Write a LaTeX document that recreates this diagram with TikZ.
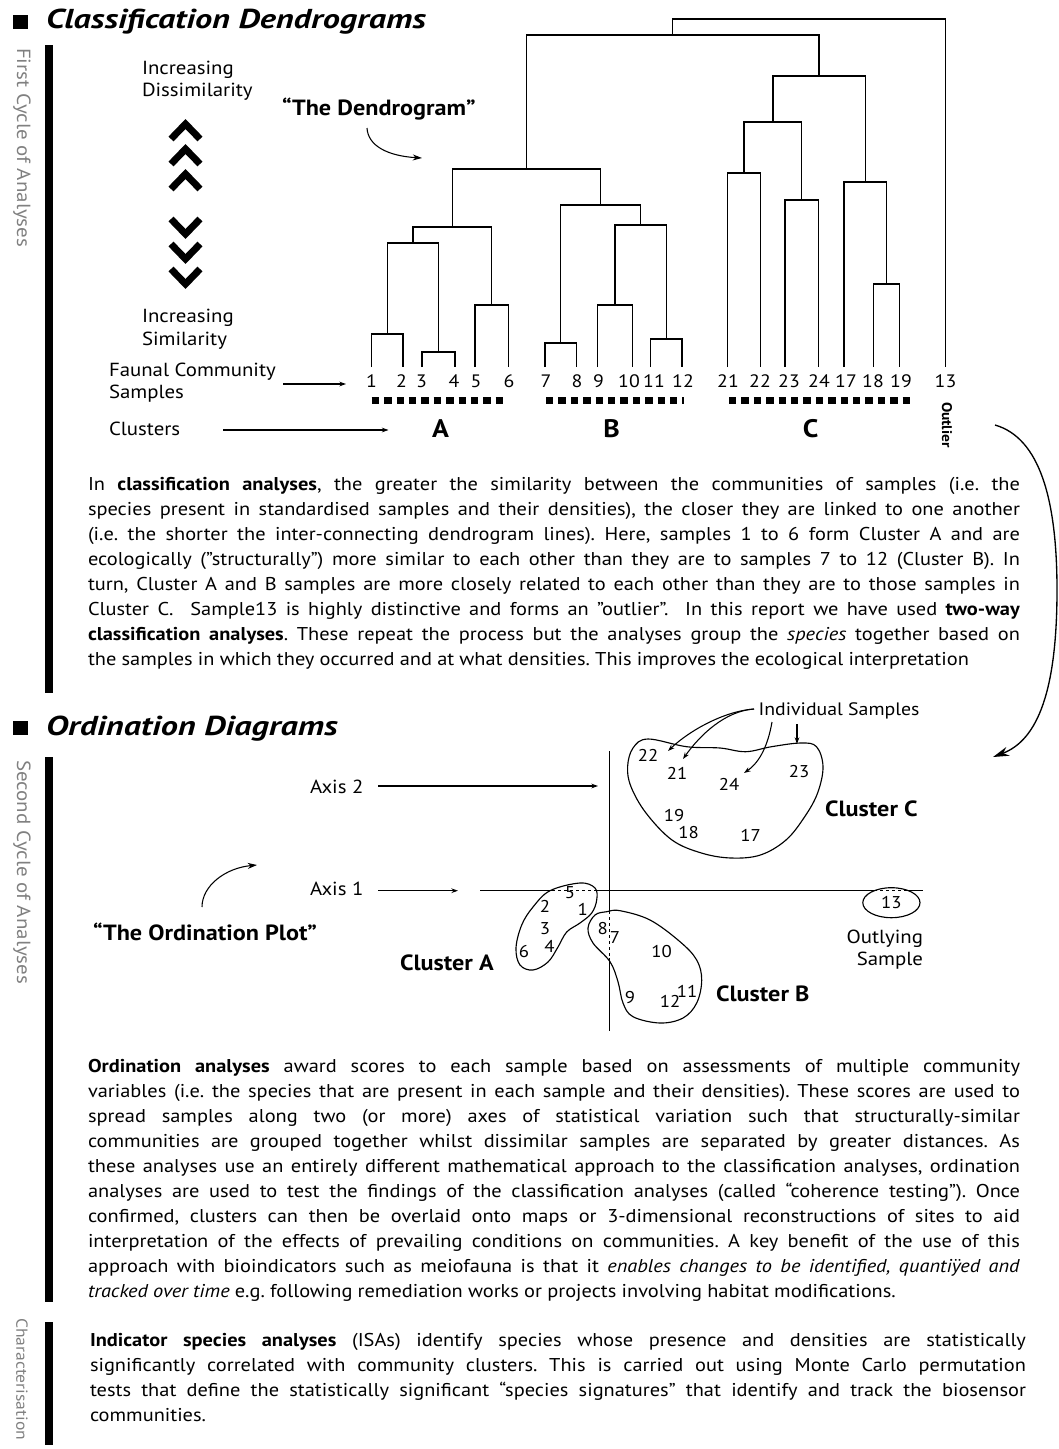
\documentclass[tikz,border=0pt]{standalone}
\usepackage{fontspec}
\setmainfont{PT Sans}[FakeStretch=1.1]
\usetikzlibrary{arrows.meta}
\newcommand{\jline}[1]{\makebox[\linewidth][s]{#1}}
\newcommand{\bodyfont}{\fontsize{13.9}{18.75}\selectfont\frenchspacing\spaceskip=3.9pt plus 8pt minus 1.6pt\relax}
\begin{document}
\begin{tikzpicture}[x=0.75pt,y=-0.75pt,
  every node/.style={inner sep=0pt, outer sep=0pt},
  dend/.style={line width=1pt, line join=miter},
  lab/.style={font=\fontsize{14.2}{17}\selectfont, anchor=base west},
  leaf/.style={font=\fontsize{13.5}{16}\selectfont, anchor=base},
  onum/.style={font=\fontsize{12.8}{15}\selectfont},
  bigbold/.style={font=\bfseries\fontsize{16.5}{19}\selectfont, anchor=base west},
  clet/.style={font=\bfseries\fontsize{19}{22}\selectfont, anchor=base},
  clname/.style={font=\bfseries\fontsize{16.5}{19}\selectfont, anchor=base west},
  head/.style={font=\bfseries\itshape\fontsize{20.5}{24}\selectfont, anchor=base west},
  cyc/.style={font=\fontsize{14.3}{16}\selectfont, text=black!50, rotate=-90, anchor=west},
  dotbar/.style={line width=4.9pt, dash pattern=on 5.6pt off 3.7pt},
  chev/.style={line width=5.2pt, line join=miter, miter limit=10},
  arr/.style={-{Stealth[length=5pt,width=3.5pt]}, line width=0.8pt},
  ax/.style={line width=1.1pt},
  axd/.style={line width=1.1pt, dash pattern=on 2.5pt off 2pt},
  blob/.style={line width=0.85pt},
  para/.style={anchor=base west, inner sep=0pt}
]
\useasboundingbox (0,0) rectangle (1059,1449);

% ---------- headings and side bars ----------
\fill (13,15) rectangle (28,29);
\node[head] (h1) at (46,28) {\scalebox{1.14}[1]{Classification Dendrograms}};
\fill (13,721) rectangle (28,735);
\node[head] (h2) at (46,735) {\scalebox{1.14}[1]{Ordination Diagrams}};

\fill (45,45) rectangle (53,693);
\fill (45,757) rectangle (53,1302);
\fill (45,1322) rectangle (53,1445);
\node[cyc] (cyc1) at (22,48) {First Cycle of Analyses};
\node[cyc] (cyc2) at (22,760) {Second Cycle of Analyses};
\node[cyc, font=\fontsize{12}{14}\selectfont] (cyc3) at (22,1318) {Characterisation};

% ---------- left labels ----------
\node[lab] (inc1) at (142,74) {Increasing};
\node[lab] (dis) at (142,96.7) {Dissimilarity};
\node[lab] (inc2) at (142,322.7) {Increasing};
\node[lab] (sim) at (142,345) {Similarity};
\node[lab] (fau) at (109,376.7) {Faunal Community};
\node[lab] (sam) at (109,398) {Samples};
\node[lab] (clu) at (109,435) {Clusters};
\coordinate (fauA) at (283,384); \coordinate (fauB) at (346,384);
\coordinate (cluA) at (223,430); \coordinate (cluB) at (388.5,430);
\draw[arr] (fauA) -- (fauB);
\draw[arr] (cluA) -- (cluB);

% chevrons
\draw[chev] (171,139) -- (185.5,124) -- (200,139);
\draw[chev] (171,164) -- (185.5,149) -- (200,164);
\draw[chev] (171,189) -- (185.5,174) -- (200,189);
\draw[chev] (171,219) -- (185.5,234) -- (200,219);
\draw[chev] (171,244) -- (185.5,259) -- (200,244);
\draw[chev] (171,269) -- (185.5,284) -- (200,269);

% "The Dendrogram"
\node[bigbold] (tden) at (282,115) {“The Dendrogram”};
\coordinate (tdA) at (367,128); \coordinate (tdB) at (422,158);
\draw[line width=0.8pt, -{Stealth[length=7pt,width=4.5pt]}] (tdA) .. controls (368,146) and (388,156) .. (tdB);

% ---------- dendrogram ----------
\coordinate (L1) at (371.6,367); \coordinate (L2) at (403,367);
\coordinate (L3) at (422,367);   \coordinate (L4) at (455,367);
\coordinate (L5) at (475,367);   \coordinate (L6) at (508.6,367);
\coordinate (L7) at (545,367);   \coordinate (L8) at (576.6,367);
\coordinate (L9) at (597.7,367); \coordinate (L10) at (632.4,367);
\coordinate (L11) at (650.5,367);\coordinate (L12) at (682,367);
\coordinate (L21) at (727.5,367);\coordinate (L22) at (760.8,367);
\coordinate (L23) at (785,367);  \coordinate (L24) at (818.5,367);
\coordinate (L17) at (844,367);  \coordinate (L18) at (873.4,367);
\coordinate (L19) at (899.5,367);\coordinate (L13) at (945.5,367);

\coordinate (n12) at (387.3,334);
\coordinate (n34) at (438.5,352);
\coordinate (n1234) at (413,243);
\coordinate (n56) at (491.8,305);
\coordinate (nA) at (452.4,227);
\coordinate (n78) at (560.8,343);
\coordinate (n910) at (615,305);
\coordinate (n1112) at (666.2,339);
\coordinate (n912) at (640.6,225);
\coordinate (nB) at (600.7,205);
\coordinate (nAB) at (526.5,169);
\coordinate (n2122) at (744.1,173);
\coordinate (n2324) at (801.7,200);
\coordinate (n2124) at (772.9,122);
\coordinate (n1819) at (886.4,284);
\coordinate (n1719) at (865.2,182);
\coordinate (nC) at (819,76);
\coordinate (nABC) at (672.8,35);
\coordinate (root) at (809,19);

\draw[dend] (L1) |- (n12) -| (L2);
\draw[dend] (L3) |- (n34) -| (L4);
\draw[dend] (n12) |- (n1234) -| (n34);
\draw[dend] (L5) |- (n56) -| (L6);
\draw[dend] (n1234) |- (nA) -| (n56);
\draw[dend] (L7) |- (n78) -| (L8);
\draw[dend] (L9) |- (n910) -| (L10);
\draw[dend] (L11) |- (n1112) -| (L12);
\draw[dend] (n910) |- (n912) -| (n1112);
\draw[dend] (n78) |- (nB) -| (n912);
\draw[dend] (nA) |- (nAB) -| (nB);
\draw[dend] (L21) |- (n2122) -| (L22);
\draw[dend] (L23) |- (n2324) -| (L24);
\draw[dend] (n2122) |- (n2124) -| (n2324);
\draw[dend] (L18) |- (n1819) -| (L19);
\draw[dend] (L17) |- (n1719) -| (n1819);
\draw[dend] (n2124) |- (nC) -| (n1719);
\draw[dend] (nAB) |- (nABC) -| (nC);
\draw[dend] (nABC) |- (root) -| (L13);

\node[leaf] (t1) at (371.6,387) {1};
\node[leaf] (t2) at (401.5,387) {2};
\node[leaf] (t3) at (421.5,387) {3};
\node[leaf] (t4) at (454,387) {4};
\node[leaf] (t5) at (476,387) {5};
\node[leaf] (t6) at (509,387) {6};
\node[leaf] (t7) at (546,387) {7};
\node[leaf] (t8) at (577,387) {8};
\node[leaf] (t9) at (598.5,387) {9};
\node[leaf] (t10) at (629,387) {10};
\node[leaf] (t11) at (654,387) {11};
\node[leaf] (t12) at (683,387) {12};
\node[leaf] (t21) at (728,387) {21};
\node[leaf] (t22) at (760,387) {22};
\node[leaf] (t23) at (789,387) {23};
\node[leaf] (t24) at (819,387) {24};
\node[leaf] (t17) at (846,387) {17};
\node[leaf] (t18) at (873,387) {18};
\node[leaf] (t19) at (901,387) {19};
\node[leaf] (t13) at (945.5,387) {13};

\draw[dotbar] (371.7,400.7) -- (508,400.7);
\draw[dotbar] (546,400.7) -- (684,400.7);
\draw[dotbar] (729,400.7) -- (911,400.7);

\node[clet] (cA) at (440.5,437) {A};
\node[clet] (cB) at (611.5,437) {B};
\node[clet] (cC) at (810.6,437) {C};
\node[font=\bfseries\fontsize{10.5}{12}\selectfont, rotate=-90, anchor=west] (outl) at (947,402) {Outlier};

% big curved arrow to ordination
\coordinate (oS) at (995,425); \coordinate (oE) at (993,757);
\draw[line width=1pt, -{Stealth[length=12pt,width=7pt]}] (oS) .. controls (1040,438) and (1057,500) .. (1057,590) .. controls (1057,690) and (1038,740) .. (oE);

% ---------- paragraph 1 ----------
\node[para] (para1) at (88,490.7) {\parbox[t]{699pt}{\bodyfont
\jline{In \textbf{classification analyses}, the greater the similarity between the communities of samples (i.e. the}\\
\jline{species present in standardised samples and their densities), the closer they are linked to one another}\\
\jline{(i.e. the shorter the inter-connecting dendrogram lines). Here, samples 1 to 6 form Cluster A and are}\\
\jline{ecologically ("structurally") more similar to each other than they are to samples 7 to 12 (Cluster B). In}\\
\jline{turn, Cluster A and B samples are more closely related to each other than they are to those samples in}\\
\jline{Cluster C.\ \ Sample13 is highly distinctive and forms an "outlier".\ \ In this report we have used \textbf{two-way}}\\
\jline{\textbf{classification analyses}. These repeat the process but the analyses group the \textit{species} together based on}\\
the samples in which they occurred and at what densities. This improves the ecological interpretation}};

% ---------- ordination ----------
\node[lab] (ax2) at (310,793) {Axis 2};
\node[lab] (ax1) at (310,895) {Axis 1};
\coordinate (a2A) at (378,786); \coordinate (a2B) at (598,786);
\coordinate (a1A) at (378,890.7); \coordinate (a1B) at (458,890.7);
\draw[arr] (a2A) -- (a2B);
\draw[arr] (a1A) -- (a1B);

\node[bigbold] (tord) at (93,940) {“The Ordination Plot”};
\coordinate (toA) at (202,907); \coordinate (toB) at (257,865);
\draw[line width=0.8pt, -{Stealth[length=7pt,width=4.5pt]}] (toA) .. controls (202,886) and (225,868) .. (toB);

% blobs
\draw[blob] plot[smooth cycle, tension=0.6] coordinates {(627.6,766.7) (633,748) (648,739) (686.6,746.7) (720,748) (745.7,751.7) (771.5,746.7) (801,743) (816.5,746.7) (823,766.7) (817.6,793) (804.7,816.7) (786,840) (760.4,855) (731,858) (701.4,853) (672,840) (646,813) (631,786.7)};
\draw[blob] plot[smooth cycle, tension=0.6] coordinates {(550,890.7) (580,883) (595,888) (596.7,900) (591.7,913) (580,923) (566.7,932) (558,947) (548,962) (533,970) (520,965) (516,948) (521.7,925) (533,907)};
\draw[blob] plot[smooth cycle, tension=0.6] coordinates {(606.7,911.7) (620,910.7) (650,920) (680,941.7) (696.7,960) (701.7,980) (696.7,1003) (683,1018) (660,1023) (633,1016.7) (623,1003) (618,981.7) (610,961.7) (593,943) (588,928) (595,915)};
\draw[blob] (891.4,902.7) ellipse [x radius=28.6, y radius=15];

% axes
\draw[ax] (480,890.7) -- (552,890.7);
\draw[axd] (552,890.7) -- (596,890.7);
\draw[ax] (596,890.7) -- (874,890.7);
\draw[axd] (874,890.7) -- (908,890.7);
\draw[ax] (908,890.7) -- (923,890.7);
\draw[ax] (609.3,751) -- (609.3,911);
\draw[axd] (609.3,911) -- (609.3,958);
\draw[ax] (609.3,958) -- (609.3,1031);

% sample numbers
\node[onum] (s22) at (648,755) {22};
\node[onum] (s21) at (677,773) {21};
\node[onum] (s24) at (729,784) {24};
\node[onum] (s23) at (799,772) {23};
\node[onum] (s19) at (674,816) {19};
\node[onum] (s18) at (688.5,833) {18};
\node[onum] (s17) at (750.5,835) {17};
\node[onum] (s5) at (570,893) {5};
\node[onum] (s2) at (545,906) {2};
\node[onum] (s1) at (582.7,909) {1};
\node[onum] (s3) at (545,929) {3};
\node[onum] (s4) at (549.5,946.5) {4};
\node[onum] (s6) at (524,951.7) {6};
\node[onum] (s8) at (602.7,929) {8};
\node[onum] (s7) at (615,938) {7};
\node[onum] (s10) at (661.7,951.7) {10};
\node[onum] (s9) at (630,997.7) {9};
\node[onum] (s12) at (670,1001.7) {12};
\node[onum] (s11) at (687,991) {11};
\node[onum] (s13) at (891.4,903) {13};

\node[clname] (clC) at (825,816) {Cluster C};
\node[clname] (clA) at (400,970) {Cluster A};
\node[clname] (clB) at (716,1001.7) {Cluster B};
\node[font=\fontsize{14.2}{17}\selectfont, anchor=base east] (outy) at (923,943) {Outlying};
\node[font=\fontsize{14.2}{17}\selectfont, anchor=base east] (outs) at (923,965) {Sample};

% individual samples
\node[font=\fontsize{13.5}{16}\selectfont, anchor=base west] (indiv) at (758.6,715) {Individual Samples};
\coordinate (isL) at (754,709);
\coordinate (isM) at (772,722);
\coordinate (isR) at (797,724);
\coordinate (i22) at (668,751);
\coordinate (i21) at (683,759);
\coordinate (i24) at (744,773);
\coordinate (i23) at (797,744);
\draw[arr] (isL) .. controls (725,711) and (690,730) .. (i22);
\draw[arr] (isL) .. controls (725,711) and (700,735) .. (i21);
\draw[arr] (isM) .. controls (768,745) and (760,762) .. (i24);
\draw[arr] (isR) -- (i23);

% ---------- paragraph 2 ----------
\node[para] (para2) at (88,1072.7) {\parbox[t]{699pt}{\bodyfont
\jline{\textbf{Ordination analyses} award scores to each sample based on assessments of multiple community}\\
\jline{variables (i.e. the species that are present in each sample and their densities). These scores are used to}\\
\jline{spread samples along two (or more) axes of statistical variation such that structurally-similar}\\
\jline{communities are grouped together whilst dissimilar samples are separated by greater distances. As}\\
\jline{these analyses use an entirely different mathematical approach to the classification analyses, ordination}\\
\jline{analyses are used to test the findings of the classification analyses (called “coherence testing”). Once}\\
\jline{confirmed, clusters can then be overlaid onto maps or 3-dimensional reconstructions of sites to aid}\\
\jline{interpretation of the effects of prevailing conditions on communities. A key benefit of the use of this}\\
\jline{approach with bioindicators such as meiofauna is that it \textit{enables changes to be identified, quantiÿed and}}\\
\textit{tracked over time} e.g. following remediation works or projects involving habitat modifications.}};

% ---------- paragraph 3 ----------
\node[para] (para3) at (90,1346) {\parbox[t]{702pt}{\bodyfont
\jline{\textbf{Indicator species analyses} (ISAs) identify species whose presence and densities are statistically}\\
\jline{significantly correlated with community clusters. This is carried out using Monte Carlo permutation}\\
\jline{tests that define the statistically significant “species signatures” that identify and track the biosensor}\\
communities.}};
\end{tikzpicture}
\end{document}
